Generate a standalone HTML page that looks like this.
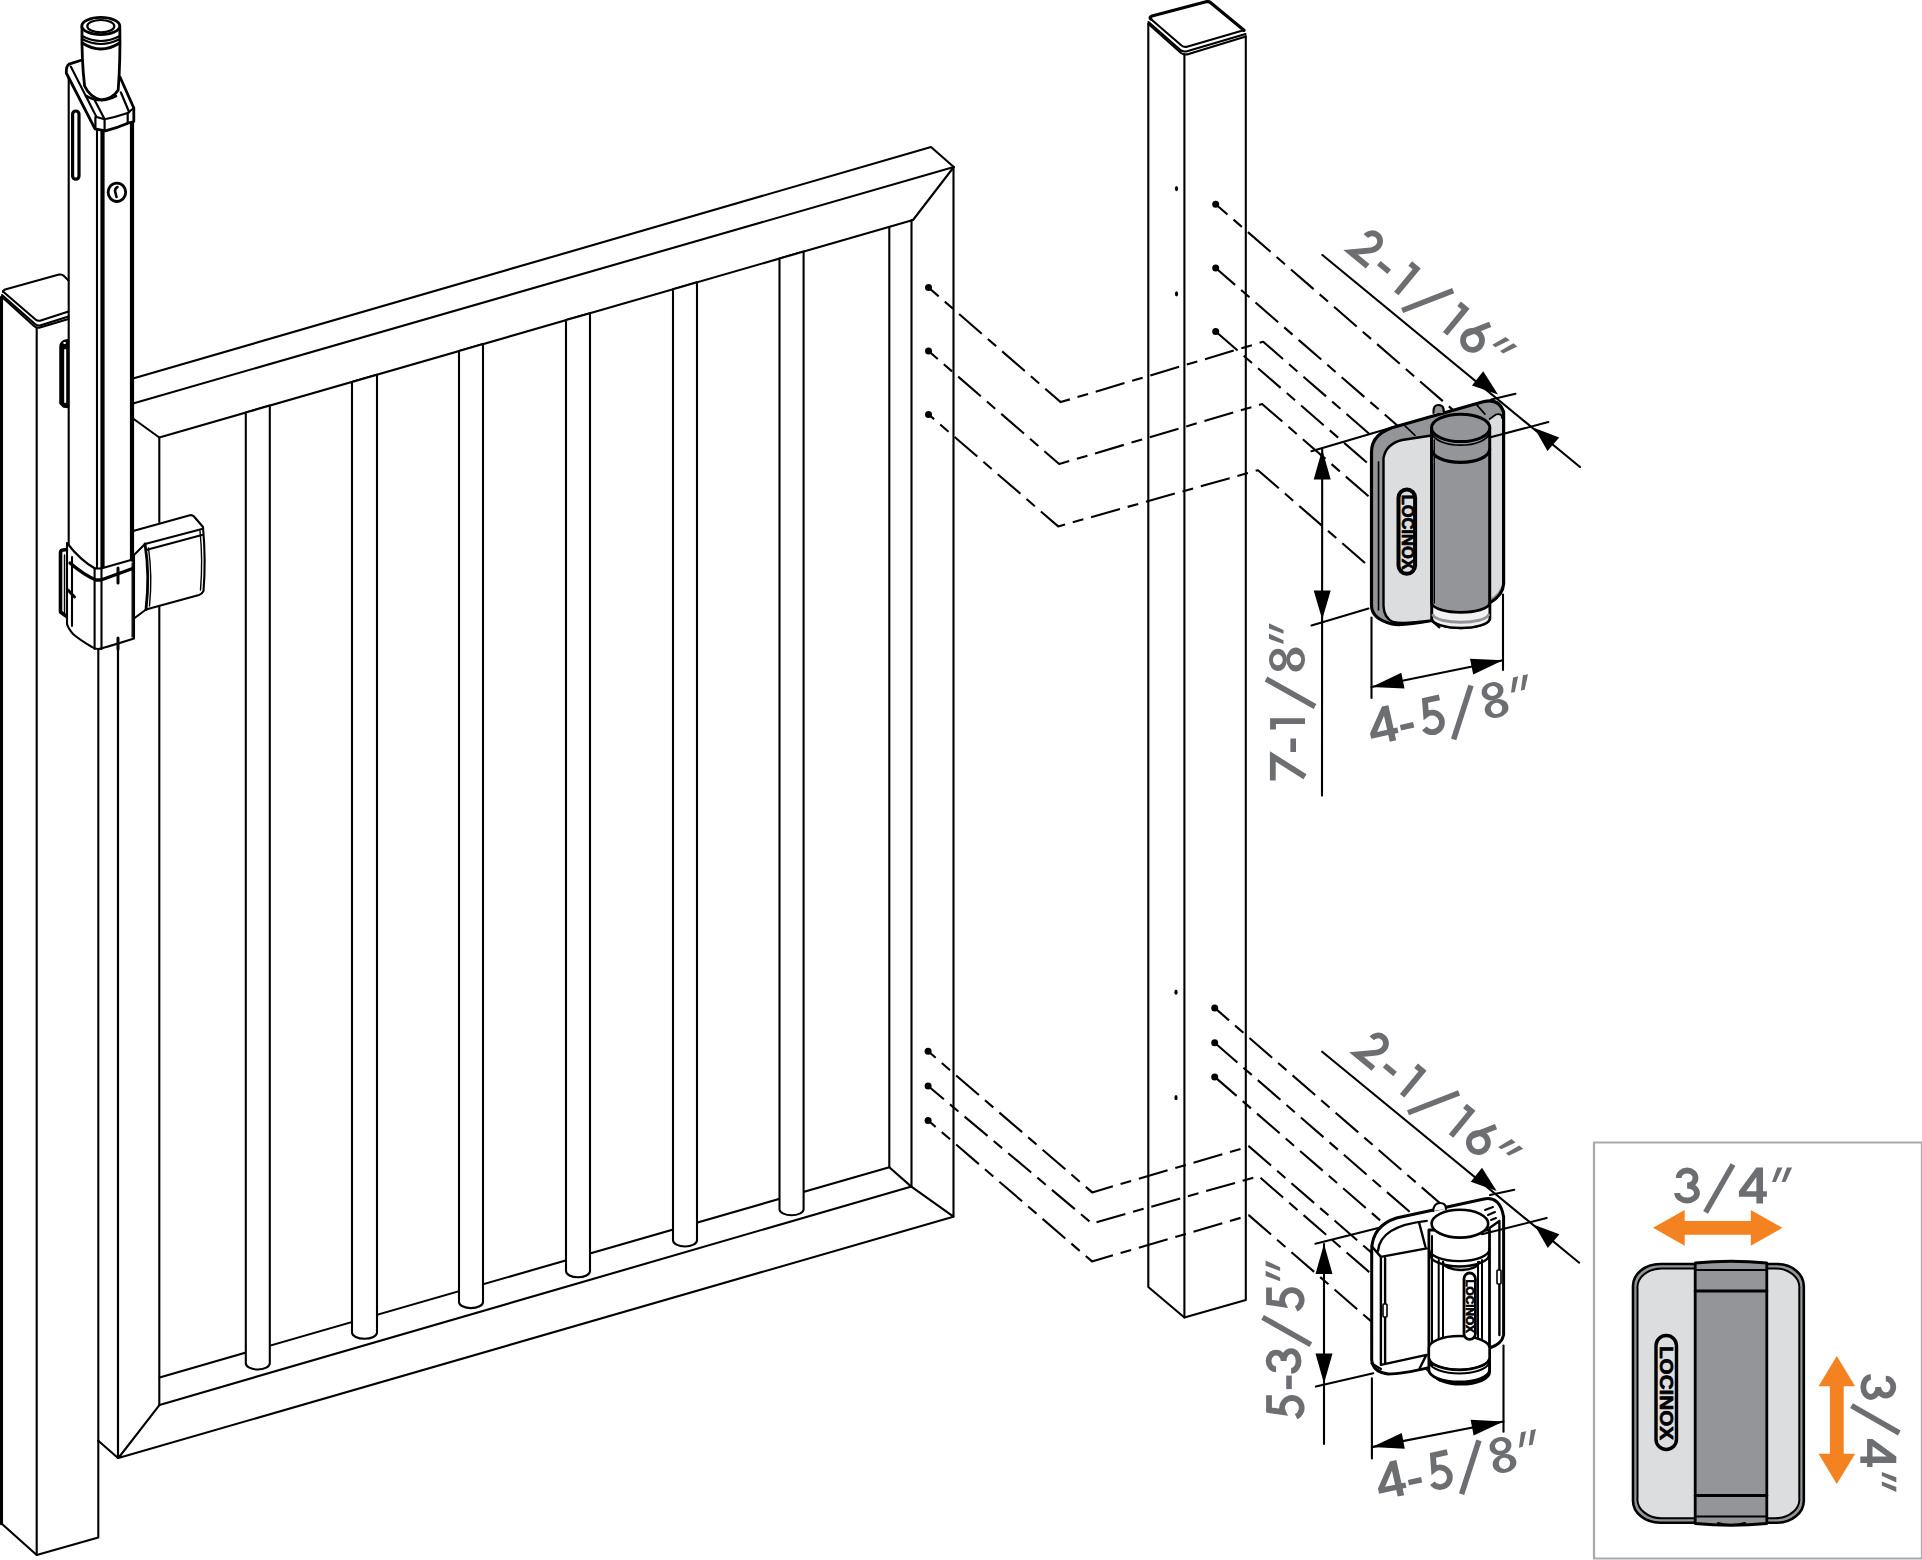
<!DOCTYPE html>
<html><head><meta charset="utf-8"><style>
html,body{margin:0;padding:0;background:#fff;width:1922px;height:1560px;overflow:hidden}
svg{display:block}
.t{font-family:"Liberation Sans",sans-serif;fill:#6d6e71;stroke:#6d6e71;stroke-width:1.1}
</style></head><body>
<svg width="1922" height="1560" viewBox="0 0 1922 1560">
<g fill="none" stroke="#000" stroke-width="2.1" stroke-linejoin="round" stroke-linecap="round">
<g id="leftpost">
<path d="M2 297 V1524 L36.7 1555 L98.3 1537.4 V1440.8"/>
<path d="M1.2 297 V1524" stroke-width="2.6"/>
<path d="M36.7 327.7 V1555"/>
<path d="M3 292 Q3 290 6 289.2 L59 274.6 Q62 274 64 276 L68.5 280.5"/>
<path d="M3 291.5 L35.5 319.5 Q37 321 40 320.8 L68.5 311.5"/>
<path d="M2 295 L35 324 Q37 326 40 325.5 L68.5 316.5"/>
<path d="M2 297 L34 326 Q36.7 328.5 40 327.5 L68.5 319"/>
<path d="M68.5 339.5 L63.5 340.8 Q60 342.5 60 347 V403.5 L63.5 407 L68.5 407.5 Z" fill="#000" stroke-width="1.5"/>
<path d="M64.3 343 H65 M65.2 350 V402" stroke="#fff" stroke-width="2"/>
<path d="M98.3 649 V1440.8"/>
</g>
<g id="gate">
<path d="M133 378.5 L931 147 L953.8 167 L913 220 L159.3 437.5 L133 418.5"/>
<path d="M133 403.4 L953.8 167"/>
<path d="M953.5 167 V1216.7 L911 1186.4 L889.3 1167.3 L159.6 1377.4"/>
<path d="M911.5 220 V1186.4 L159.6 1404.9 L118.4 1458 L953.3 1216.7"/>
<path d="M889.3 226.8 V1167.3"/>
<path d="M159.3 437.5 V522 M159.3 607 V1404.9"/>
<path d="M118 649 V1458 L98.3 1440.8"/>
</g>
<g id="bars" fill="#fff">
<path d="M245.8 412.5 V1363.3 A12.0 6.2 0 0 0 269.8 1363.3 V405.6 Z"/>
<path d="M352.0 381.9 V1332.6 A12.5 6.2 0 0 0 377.0 1332.6 V374.7 Z"/>
<path d="M459.0 351.0 V1301.9 A12.0 6.2 0 0 0 483.0 1301.9 V344.1 Z"/>
<path d="M566.0 320.1 V1271.1 A12.0 6.2 0 0 0 590.0 1271.1 V313.2 Z"/>
<path d="M673.0 289.3 V1240.3 A12.0 6.2 0 0 0 697.0 1240.3 V282.3 Z"/>
<path d="M779.5 258.5 V1209.6 A12.1 6.2 0 0 0 803.6 1209.6 V251.6 Z"/>
</g>
<g id="rightpost">
<path d="M1148.3 23.5 V1287 L1184.4 1317.5 L1245.8 1299.9 V36.4"/>
<path d="M1184.4 54 V1317.5"/>
<path d="M1150.8 19 Q1149 17 1152 16 L1206 1.8 Q1209 1 1211 3 L1244 30.3" stroke-width="3.2"/>
<path d="M1150.8 19 L1181.5 45.5 Q1184 47.5 1187 46.7 L1241 31 Q1244 30 1244 31"/>
<path d="M1148.5 22 L1181 50.5 Q1184 52 1187 51.3 L1245.5 34"/>
<path d="M1148.5 24 L1181 53 Q1184 55 1187 54.4 L1245.8 36.4"/>
<ellipse cx="1176.5" cy="188.6" rx="1.6" ry="2.6" fill="#000" stroke="none"/>
<ellipse cx="1176.5" cy="293.8" rx="1.6" ry="2.6" fill="#000" stroke="none"/>
<ellipse cx="1176.0" cy="992.2" rx="1.6" ry="2.6" fill="#000" stroke="none"/>
<ellipse cx="1176.0" cy="1097.7" rx="1.6" ry="2.6" fill="#000" stroke="none"/>
</g>
<g id="droprod">
<path d="M68.7 77 V545"/>
<path d="M97 129 V568"/>
<path d="M102.5 130.8 V568" stroke-width="4.2"/>
<path d="M132 121.5 V560" stroke-width="4.2"/>
<path d="M82 60 L69 64.2 Q66 66 66.3 73 L95 128.8 L105.4 130.8 Q117 128 128.5 123 L133.8 121.5 V108 L120 77 Z" fill="#fff" stroke-width="2.8"/>
<path d="M70.8 66.5 L96.5 117 L104.6 119.2 Q116 117 127.7 113 L133.8 108"/>
<path d="M94.6 100 L104.6 119.2 M120.8 92.3 L129.2 112.3 M95.4 117 V129 M104.6 119.2 V130.8 M127.7 113 V123" stroke-width="2.2"/>
<path d="M82 27 Q81.5 60 84.6 86 Q90 97.5 101.5 100 Q113 98.5 118.2 90 Q120.5 60 119.8 27" fill="#fff" stroke-width="2.8"/>
<path d="M86 96 Q101 104 116 96" stroke-width="2.6"/>
<ellipse cx="100.8" cy="26" rx="19" ry="8.6" fill="#fff" stroke-width="2.8"/>
<ellipse cx="100.8" cy="26.2" rx="13.5" ry="6.2" stroke-width="2.2"/>
<path d="M82 36 Q100.8 46 119.8 36" stroke-width="2.2"/>
<path d="M82 39 Q100.8 49 119.8 39" stroke-width="2.2"/>
<path d="M82.3 43 Q100.8 55 119.6 43" stroke-width="2.8"/>
<rect x="72.6" y="111" width="6.4" height="68.2" rx="3.2" stroke-width="3.2"/>
<ellipse cx="116.9" cy="192.3" rx="8.8" ry="9.2" stroke-width="2.8"/>
<path d="M117.5 187 Q114 189 115.5 193 L116.5 197" stroke-width="2.6"/>
<path d="M67 543 Q80 560 95 568.5 L101 568.5 L131 560 L134 561.5 V638.5 Q101 649 98 649 Q95 649 92 647 Q80 640 73 634 Q68 628 67 624 Z" fill="#fff"/>
<path d="M70 563 Q84 575 96 580 L101 580 L134 568" stroke-width="3.4"/>
<path d="M94.6 568 V649 M101.5 568 V649"/>
<path d="M72 557 V626"/>
<path d="M60.5 553 Q60.5 550 63 550 L66.5 549.5 M60.5 553 V612 L66 616" stroke-width="3.6"/>
<path d="M64.5 555 V613" stroke-width="1.4"/>
<path d="M132.2 563 V637" stroke-width="1.4"/>
<path d="M118 568 V583 M118 638 V649 M68 590 L74.5 597" stroke-width="3"/>
<path d="M118 649 V1458"/>
<path d="M134 530.8 L189 515.4 Q192 514.5 194 516.5 L203 527 Q206 560 203.5 591 Q202 594 199 595 L146 609.5 L134 618.5 V555 L145 544" fill="#fff"/>
<path d="M145 544 L202 529 M146 550 L202 535"/>
<path d="M145 544 Q150 575 146 609.5" stroke-width="2.8"/>
<path d="M148.5 548 Q152.5 576 149.5 606" stroke-width="1.4"/>
<path d="M200 531 Q203 560 200.5 590" stroke-width="1.4"/>
</g>
<g id="dashes" stroke-linecap="butt">
<path d="M928.5 287.5 L1060.7 402.1 L1263.2 341.8 L1440.0 495.1" stroke-dasharray="30 8 11 8" stroke-dashoffset="16.5"/>
<circle cx="928.5" cy="287.5" r="3.5" fill="#000" stroke="none"/>
<path d="M928.5 351.0 L1059.2 464.0 L1262.1 404.0 L1440.0 558.2" stroke-dasharray="30 8 11 8" stroke-dashoffset="17.8"/>
<circle cx="928.5" cy="351.0" r="3.5" fill="#000" stroke="none"/>
<path d="M928.5 414.4 L1058.2 526.4 L1258.0 470.2 L1440.0 628.0" stroke-dasharray="30 8 11 8" stroke-dashoffset="22.5"/>
<circle cx="928.5" cy="414.4" r="3.5" fill="#000" stroke="none"/>
<path d="M1215.7 204.2 L1460.0 416.0" stroke-dasharray="30 8 11 8" stroke-dashoffset="14.4"/>
<circle cx="1215.7" cy="204.2" r="3.5" fill="#000" stroke="none"/>
<path d="M1215.7 268.0 L1460.0 479.8" stroke-dasharray="30 8 11 8" stroke-dashoffset="4.3"/>
<circle cx="1215.7" cy="268.0" r="3.5" fill="#000" stroke="none"/>
<path d="M1215.7 331.5 L1460.0 543.3" stroke-dasharray="30 8 11 8" stroke-dashoffset="1.0"/>
<circle cx="1215.7" cy="331.5" r="3.5" fill="#000" stroke="none"/>
<path d="M928.1 1051.3 L1092.2 1192.4 L1249.0 1146.4 L1440.0 1312.0" stroke-dasharray="30 8 11 8" stroke-dashoffset="20.0"/>
<circle cx="928.1" cy="1051.3" r="3.5" fill="#000" stroke="none"/>
<path d="M928.1 1086.0 L1092.0 1223.5 L1258.6 1176.2 L1440.0 1333.5" stroke-dasharray="30 8 11 8" stroke-dashoffset="9.4"/>
<circle cx="928.1" cy="1086.0" r="3.5" fill="#000" stroke="none"/>
<path d="M928.1 1120.4 L1092.0 1261.4 L1249.0 1215.4 L1440.0 1381.0" stroke-dasharray="30 8 11 8" stroke-dashoffset="20.0"/>
<circle cx="928.1" cy="1120.4" r="3.5" fill="#000" stroke="none"/>
<path d="M1214.7 1007.9 L1460.0 1220.6" stroke-dasharray="30 8 11 8" stroke-dashoffset="11.0"/>
<circle cx="1214.7" cy="1007.9" r="3.5" fill="#000" stroke="none"/>
<path d="M1214.7 1042.8 L1460.0 1255.5" stroke-dasharray="30 8 11 8" stroke-dashoffset="0.0"/>
<circle cx="1214.7" cy="1042.8" r="3.5" fill="#000" stroke="none"/>
<path d="M1214.7 1076.9 L1460.0 1289.6" stroke-dasharray="30 8 11 8" stroke-dashoffset="1.0"/>
<circle cx="1214.7" cy="1076.9" r="3.5" fill="#000" stroke="none"/>
</g>
<g id="hingetop" stroke-width="2.6">
<path d="M1371.5 452 C1371.5 438 1382 430 1398 426 L1484 401.5 Q1499 398 1503.6 412 V584 Q1503 595 1489.7 603 V619 A29 9.5 0 0 1 1432 619 V620.5 Q1402 626 1392 624 Q1372 619 1371.5 606 Z" fill="#939598" stroke-width="3.2"/>
<path d="M1383.5 458 Q1386 444 1402 440 L1431.5 435.5 V620.5 Q1402 624.5 1393 622 Q1384 618 1383.5 606 Z" fill="#dcdddf" stroke-width="2.4"/>
<path d="M1378.5 462 V610" stroke-width="1.6"/>
<path d="M1489.7 419 L1496 414.5 Q1502 413 1502 418 V584 Q1500 593 1489.7 599 Z" fill="#dcdddf" stroke="none"/>
<path d="M1489.7 419 L1496 414.5 Q1502 413 1502 418" stroke-width="1.8"/>
<path d="M1405 425.8 L1415 435.4 M1476.6 404.6 L1484.9 414.1" stroke-width="1.6"/>
<path d="M1431.5 428 V603 A29.1 9.5 0 0 0 1489.7 603 V428 Z" fill="#939598" stroke-width="3"/>
<path d="M1432 604 V619 A28.9 9.5 0 0 0 1489.7 619 V604 A29 9.5 0 0 1 1432 604 Z" fill="#f2f2f3" stroke-width="2.4"/>
<path d="M1433 615 A28 8.5 0 0 0 1488.5 615" stroke="#939598" stroke-width="3"/>
<path d="M1434.3 440 V603" stroke-width="1.4"/>
<path d="M1431.5 449 A29.1 13.5 0 0 0 1489.7 449" stroke-width="3.2"/>
<path d="M1431.8 433 A29 13.5 0 0 0 1489.5 433" stroke-width="1.6"/>
<ellipse cx="1460.7" cy="427.9" rx="29.1" ry="13.7" fill="#939598" stroke-width="3"/>
<path d="M1433.5 413 Q1433 405 1438 405 Q1443 405 1443.5 409 L1444 413" fill="#939598" stroke-width="2.2"/>
<rect x="1398.5" y="489.5" width="16.6" height="84.3" rx="8.3" fill="#dcdddf" stroke-width="4"/>
<text x="1407.3" y="532.2" transform="rotate(90 1407.3 532.2)" text-anchor="middle" dominant-baseline="central" font-family="Liberation Sans" font-weight="bold" font-size="16.0" fill="#000" stroke="#000" stroke-width="0.7" textLength="75.0" lengthAdjust="spacingAndGlyphs">LOCINOX</text>
</g>
<g id="hingebot" stroke-width="2.4" fill="#fff">
<path d="M1371.7 1250 Q1372 1226 1396.4 1218 L1484 1199 Q1500 1196 1503.6 1216.7 V1335 Q1502 1344 1489.5 1348 V1372 A28 12 0 0 1 1433 1372 L1428.9 1367.6 Q1402 1374 1388 1374 Q1373 1372 1371.7 1360 Z" stroke-width="3"/>
<path d="M1378 1251 Q1380 1226 1426.7 1220.9" fill="none"/>
<path d="M1371.7 1246.3 L1380.9 1256.9 L1426.7 1248.4 M1380.9 1256.9 V1364.8 L1426.7 1354.9 M1385.1 1258.3 V1363.4 M1371.7 1363.4 L1380.9 1369 M1419 1222.3 L1425.3 1246.3 M1419.7 1368.3 L1426 1355.6" fill="none"/>
<path d="M1499.4 1221 V1335 M1489.5 1228 L1499.4 1221" fill="none"/>
<rect x="1497" y="1270" width="4" height="14" rx="1" stroke-width="1.6"/>
<rect x="1383" y="1304" width="4" height="13" rx="1" stroke-width="1.6"/>
<path d="M1428.9 1230 V1370 A30.3 12 0 0 0 1489.5 1370 V1230 Z" stroke-width="2.8"/>
<path d="M1432 1236 V1366 M1438.7 1260 V1345 M1443 1262 V1343 M1478 1262 V1343 M1482 1260 V1345" fill="none" stroke-width="2"/>
<path d="M1428.9 1249.1 A30.3 12 0 0 0 1489.5 1249.1 M1430 1254.5 A29.5 12 0 0 0 1489 1254.5 M1443 1262 A18 8 0 0 0 1479 1262" fill="none" stroke-width="2.4"/>
<path d="M1428.9 1348 A30.3 12 0 0 1 1489.5 1348 V1358 A30.3 12 0 0 1 1428.9 1358 Z" stroke-width="2.4"/>
<path d="M1429.5 1359 A30 12 0 0 0 1489 1359 M1429.5 1363 A30 12 0 0 0 1489 1363" fill="none" stroke-width="2"/>
<ellipse cx="1459.9" cy="1223.7" rx="28.3" ry="13.9" stroke-width="2.6"/>
<path d="M1433 1211 Q1434 1203 1440 1203 Q1446 1203 1446 1209" stroke-width="2.2"/>
<path d="M1485 1210 l8 -3 M1488 1215 l7 -3 M1491 1220 l5 -2" fill="none" stroke-width="2"/>
<rect x="1464" y="1273" width="11.4" height="66.4" rx="5.7" stroke-width="2.8"/>
<text x="1469.7" y="1306.2" transform="rotate(90 1469.7 1306.2)" text-anchor="middle" dominant-baseline="central" font-family="Liberation Sans" font-weight="bold" font-size="11.5" fill="#000" stroke="#000" stroke-width="0.7" textLength="53.5" lengthAdjust="spacingAndGlyphs">LOCINOX</text>
</g>
<g id="dimtop">
<path d="M1322.4 255.0 L1580.0 467.0"/>
<path d="M1498.0 394.5 L1472.0 385.4 L1483.2 371.3 Z" fill="#000" stroke="none"/>
<path d="M1534.4 428.0 L1559.2 437.4 L1547.5 451.1 Z" fill="#000" stroke="none"/>
<path d="M1491.2 399.5 L1515.5 393.7"/>
<path d="M1311.4 451.2 L1398.0 425.7"/>
<path d="M1489.5 437.5 L1548.3 422.1"/>
<path d="M1322.2 449.6 L1322.0 795.6"/>
<path d="M1322.2 449.6 L1330.7 479.6 L1313.7 479.6 Z" fill="#000" stroke="none"/>
<path d="M1322.2 619.5 L1313.7 590.5 L1330.7 590.5 Z" fill="#000" stroke="none"/>
<path d="M1311.5 625.4 L1368.5 608.5"/>
<path d="M1371.5 617.5 L1371.5 698.0"/>
<path d="M1503.0 594.6 L1503.0 670.0"/>
<path d="M1371.5 687.0 L1503.0 660.2"/>
<path d="M1371.5 687.0 L1401.3 672.8 L1404.5 688.4 Z" fill="#000" stroke="none"/>
<path d="M1503.0 660.2 L1473.2 674.4 L1470.0 658.8 Z" fill="#000" stroke="none"/>
</g>
<g id="dimbot">
<path d="M1322.2 1051.7 L1579.2 1262.7"/>
<path d="M1496.7 1191.0 L1470.8 1181.8 L1482.0 1167.7 Z" fill="#000" stroke="none"/>
<path d="M1534.5 1224.9 L1559.4 1234.2 L1547.8 1247.9 Z" fill="#000" stroke="none"/>
<path d="M1490.0 1195.0 L1514.3 1189.7"/>
<path d="M1315.4 1243.8 L1380.3 1227.6"/>
<path d="M1482.0 1234.3 L1546.7 1218.0"/>
<path d="M1324.0 1244.0 L1324.0 1444.0"/>
<path d="M1324.0 1244.0 L1332.5 1274.0 L1315.5 1274.0 Z" fill="#000" stroke="none"/>
<path d="M1324.0 1383.6 L1315.5 1353.6 L1332.5 1353.6 Z" fill="#000" stroke="none"/>
<path d="M1315.9 1386.6 L1373.3 1373.3"/>
<path d="M1371.9 1378.4 L1371.9 1458.4"/>
<path d="M1503.5 1345.6 L1503.5 1431.8"/>
<path d="M1371.9 1447.1 L1503.5 1421.5"/>
<path d="M1371.9 1447.1 L1401.8 1433.1 L1404.8 1448.8 Z" fill="#000" stroke="none"/>
<path d="M1503.5 1421.5 L1473.6 1435.5 L1470.6 1419.8 Z" fill="#000" stroke="none"/>
</g>
<g id="inset">
<rect x="1594" y="1142.5" width="328" height="416" fill="#fff" stroke="#a7a9ac" stroke-width="2.2"/>
<path d="M1633 1286 A27 22 0 0 1 1660 1264 H1776.8 A27 22 0 0 1 1803.8 1286 V1500.7 A27 22 0 0 1 1776.8 1522.7 H1660 A27 22 0 0 1 1633 1500.7 Z" fill="#939598" stroke-width="2.6"/>
<path d="M1637.5 1289 A24 19 0 0 1 1661.5 1268.5 H1775.3 A24 19 0 0 1 1799.3 1289 V1497.7 A24 19 0 0 1 1775.3 1518.2 H1661.5 A24 19 0 0 1 1637.5 1497.7 Z" fill="#dcdddf" stroke-width="2"/>
<path d="M1695.2 1263 Q1731 1259.5 1766.8 1263 V1523.5 Q1731 1527 1695.2 1523.5 Z" fill="#939598" stroke-width="2.8"/>
<path d="M1695.2 1270 H1766.8 M1695.2 1516.5 H1766.8" stroke-width="2"/>
<path d="M1695.2 1291 H1766.8 M1695.2 1495.5 H1766.8" stroke-width="3"/>
<rect x="1656" y="1335.5" width="20.5" height="114" rx="10.2" fill="#dcdddf" stroke-width="3.4"/>
<text x="1665.9" y="1393.0" transform="rotate(90 1665.9 1393.0)" text-anchor="middle" dominant-baseline="central" font-family="Liberation Sans" font-weight="bold" font-size="17.5" fill="#000" stroke="#000" stroke-width="0.7" textLength="94.0" lengthAdjust="spacingAndGlyphs">LOCINOX</text>
<path d="M1718 1523 Q1730 1527 1745 1523" stroke-width="2"/>
<path d="M1653 1227.8 L1684.7 1209.9 V1220.9 H1750.8 V1209.9 L1782.5 1227.8 L1750.8 1245.7 V1234.7 H1684.7 V1245.7 Z" fill="#f58220" stroke="none"/>
<path d="M1836.8 1356 L1855.1 1386.3 H1843.7 V1453.7 H1855.1 L1836.8 1484 L1818.5 1453.7 H1829.9 V1386.3 H1818.5 Z" fill="#f58220" stroke="none"/>
</g>
</g>
<g transform="translate(1346.65 252.66) rotate(39.45)" fill="none" stroke="#6d6e71" stroke-width="5.8" stroke-linecap="butt" stroke-linejoin="miter">
<g transform="translate(0.00 0)"><path d="M4.4 -25 A8 8 0 0 1 20.4 -25 Q20.4 -20 15.5 -15.3 L2.8 -2.8 H24.8"/></g>
<path d="M31.50 -12.30 H45.00" stroke-width="5.6"/>
<g transform="translate(56.00 0)"><path d="M0 -32 H8.3 V0"/></g>
<path d="M79.60 9.40 L106.40 -38.40" stroke-width="5.5"/>
<g transform="translate(119.30 0)"><path d="M0 -32 H8.3 V0"/></g>
<g transform="translate(140.40 0)"><circle cx="12.5" cy="-12.3" r="9.5"/><path d="M3.3 -13 L16 -35.8"/></g>
<path d="M171.00 -21.5 L174.80 -21.5 L181.50 -36 L176.30 -36 Z" fill="#6d6e71" stroke="none"/>
<path d="M181.00 -21.5 L184.80 -21.5 L191.50 -36 L186.30 -36 Z" fill="#6d6e71" stroke="none"/>
</g>
<g transform="translate(1305.00 780.60) rotate(-90.00)" fill="none" stroke="#6d6e71" stroke-width="5.8" stroke-linecap="butt" stroke-linejoin="miter">
<g transform="translate(0.00 0)"><path d="M0 -32.2 H24.2 L3.8 0"/></g>
<path d="M28.60 -11.80 H42.10" stroke-width="5.6"/>
<g transform="translate(51.10 0)"><path d="M0 -32 H8.3 V0"/></g>
<path d="M74.10 10.00 L101.60 -39.00" stroke-width="5.5"/>
<g transform="translate(109.00 0)"><g stroke="none"><ellipse cx="12" cy="-9.25" rx="12" ry="9.3" fill="#6d6e71"/><ellipse cx="11.8" cy="-27" rx="11.1" ry="9" fill="#6d6e71"/><ellipse cx="12" cy="-9.4" rx="5.7" ry="5.6" fill="#fff"/><ellipse cx="11.8" cy="-27.2" rx="5.5" ry="4.9" fill="#fff"/></g></g>
<path d="M136.50 -21.5 L140.30 -21.5 L147.00 -36 L141.80 -36 Z" fill="#6d6e71" stroke="none"/>
<path d="M146.80 -21.5 L150.60 -21.5 L157.30 -36 L152.10 -36 Z" fill="#6d6e71" stroke="none"/>
</g>
<g transform="translate(1372.66 745.49) rotate(-12.50)" fill="none" stroke="#6d6e71" stroke-width="5.8" stroke-linecap="butt" stroke-linejoin="miter">
<g transform="translate(0.00 0)"><path d="M0 -6.8 V-12.2 L17.5 -36 H24.1 V-12.2 H28 V-6.8 H24.1 V0 H17.5 V-6.8 Z M7.3 -12.2 H17.5 V-26.5 Z" fill="#6d6e71" stroke="none" fill-rule="evenodd"/></g>
<path d="M31.00 -11.30 H44.50" stroke-width="5.6"/>
<g transform="translate(52.00 0)"><path d="M23.6 -32.6 H8.8 L6.8 -18.5 A9.8 9.8 0 1 1 2.2 -5.5"/></g>
<path d="M80.40 11.50 L109.00 -37.30" stroke-width="5.5"/>
<g transform="translate(117.00 0)"><g stroke="none"><ellipse cx="12" cy="-9.25" rx="12" ry="9.3" fill="#6d6e71"/><ellipse cx="11.8" cy="-27" rx="11.1" ry="9" fill="#6d6e71"/><ellipse cx="12" cy="-9.4" rx="5.7" ry="5.6" fill="#fff"/><ellipse cx="11.8" cy="-27.2" rx="5.5" ry="4.9" fill="#fff"/></g></g>
<path d="M146.50 -21.5 L150.30 -21.5 L157.00 -36 L151.80 -36 Z" fill="#6d6e71" stroke="none"/>
<path d="M156.60 -21.5 L160.40 -21.5 L167.10 -36 L161.90 -36 Z" fill="#6d6e71" stroke="none"/>
</g>
<g transform="translate(1301.60 1418.90) rotate(-90.00)" fill="none" stroke="#6d6e71" stroke-width="5.8" stroke-linecap="butt" stroke-linejoin="miter">
<g transform="translate(0.00 0)"><path d="M23.6 -32.6 H8.8 L6.8 -18.5 A9.8 9.8 0 1 1 2.2 -5.5"/></g>
<path d="M29.80 -12.60 H43.30" stroke-width="5.6"/>
<g transform="translate(44.90 0)"><path d="M4.6 -25.5 A8.4 7.5 0 1 1 13 -18 A9.9 7.5 0 1 1 3.1 -10.5"/></g>
<path d="M74.30 9.20 L101.60 -39.00" stroke-width="5.5"/>
<g transform="translate(107.80 0)"><path d="M23.6 -32.6 H8.8 L6.8 -18.5 A9.8 9.8 0 1 1 2.2 -5.5"/></g>
<path d="M137.60 -21.5 L141.40 -21.5 L148.10 -36 L142.90 -36 Z" fill="#6d6e71" stroke="none"/>
<path d="M147.90 -21.5 L151.70 -21.5 L158.40 -36 L153.20 -36 Z" fill="#6d6e71" stroke="none"/>
</g>
<g transform="translate(1674.10 1203.50) rotate(0.00)" fill="none" stroke="#6d6e71" stroke-width="5.8" stroke-linecap="butt" stroke-linejoin="miter">
<g transform="translate(0.00 0)"><path d="M4.6 -25.5 A8.4 7.5 0 1 1 13 -18 A9.9 7.5 0 1 1 3.1 -10.5"/></g>
<path d="M31.50 8.80 L58.90 -39.00" stroke-width="5.5"/>
<g transform="translate(64.80 0)"><path d="M0 -6.8 V-12.2 L17.5 -36 H24.1 V-12.2 H28 V-6.8 H24.1 V0 H17.5 V-6.8 Z M7.3 -12.2 H17.5 V-26.5 Z" fill="#6d6e71" stroke="none" fill-rule="evenodd"/></g>
<path d="M97.90 -21.5 L101.70 -21.5 L108.40 -36 L103.20 -36 Z" fill="#6d6e71" stroke="none"/>
<path d="M107.50 -21.5 L111.30 -21.5 L118.00 -36 L112.80 -36 Z" fill="#6d6e71" stroke="none"/>
</g>
<g transform="translate(1860.30 1374.10) rotate(90.00)" fill="none" stroke="#6d6e71" stroke-width="5.8" stroke-linecap="butt" stroke-linejoin="miter">
<g transform="translate(0.00 0)"><path d="M4.6 -25.5 A8.4 7.5 0 1 1 13 -18 A9.9 7.5 0 1 1 3.1 -10.5"/></g>
<path d="M31.50 8.80 L58.90 -39.00" stroke-width="5.5"/>
<g transform="translate(64.80 0)"><path d="M0 -6.8 V-12.2 L17.5 -36 H24.1 V-12.2 H28 V-6.8 H24.1 V0 H17.5 V-6.8 Z M7.3 -12.2 H17.5 V-26.5 Z" fill="#6d6e71" stroke="none" fill-rule="evenodd"/></g>
<path d="M97.90 -21.5 L101.70 -21.5 L108.40 -36 L103.20 -36 Z" fill="#6d6e71" stroke="none"/>
<path d="M107.50 -21.5 L111.30 -21.5 L118.00 -36 L112.80 -36 Z" fill="#6d6e71" stroke="none"/>
</g>
<g transform="translate(1352.50 1054.90) rotate(39.45)" fill="none" stroke="#6d6e71" stroke-width="5.8" stroke-linecap="butt" stroke-linejoin="miter">
<g transform="translate(0.00 0)"><path d="M4.4 -25 A8 8 0 0 1 20.4 -25 Q20.4 -20 15.5 -15.3 L2.8 -2.8 H24.8"/></g>
<path d="M31.50 -12.30 H45.00" stroke-width="5.6"/>
<g transform="translate(56.00 0)"><path d="M0 -32 H8.3 V0"/></g>
<path d="M79.60 9.40 L106.40 -38.40" stroke-width="5.5"/>
<g transform="translate(119.30 0)"><path d="M0 -32 H8.3 V0"/></g>
<g transform="translate(140.40 0)"><circle cx="12.5" cy="-12.3" r="9.5"/><path d="M3.3 -13 L16 -35.8"/></g>
<path d="M171.00 -21.5 L174.80 -21.5 L181.50 -36 L176.30 -36 Z" fill="#6d6e71" stroke="none"/>
<path d="M181.00 -21.5 L184.80 -21.5 L191.50 -36 L186.30 -36 Z" fill="#6d6e71" stroke="none"/>
</g>
<g transform="translate(1380.60 1500.36) rotate(-12.50)" fill="none" stroke="#6d6e71" stroke-width="5.8" stroke-linecap="butt" stroke-linejoin="miter">
<g transform="translate(0.00 0)"><path d="M0 -6.8 V-12.2 L17.5 -36 H24.1 V-12.2 H28 V-6.8 H24.1 V0 H17.5 V-6.8 Z M7.3 -12.2 H17.5 V-26.5 Z" fill="#6d6e71" stroke="none" fill-rule="evenodd"/></g>
<path d="M31.00 -11.30 H44.50" stroke-width="5.6"/>
<g transform="translate(52.00 0)"><path d="M23.6 -32.6 H8.8 L6.8 -18.5 A9.8 9.8 0 1 1 2.2 -5.5"/></g>
<path d="M80.40 11.50 L109.00 -37.30" stroke-width="5.5"/>
<g transform="translate(117.00 0)"><g stroke="none"><ellipse cx="12" cy="-9.25" rx="12" ry="9.3" fill="#6d6e71"/><ellipse cx="11.8" cy="-27" rx="11.1" ry="9" fill="#6d6e71"/><ellipse cx="12" cy="-9.4" rx="5.7" ry="5.6" fill="#fff"/><ellipse cx="11.8" cy="-27.2" rx="5.5" ry="4.9" fill="#fff"/></g></g>
<path d="M146.50 -21.5 L150.30 -21.5 L157.00 -36 L151.80 -36 Z" fill="#6d6e71" stroke="none"/>
<path d="M156.60 -21.5 L160.40 -21.5 L167.10 -36 L161.90 -36 Z" fill="#6d6e71" stroke="none"/>
</g>
</svg>
</body></html>
